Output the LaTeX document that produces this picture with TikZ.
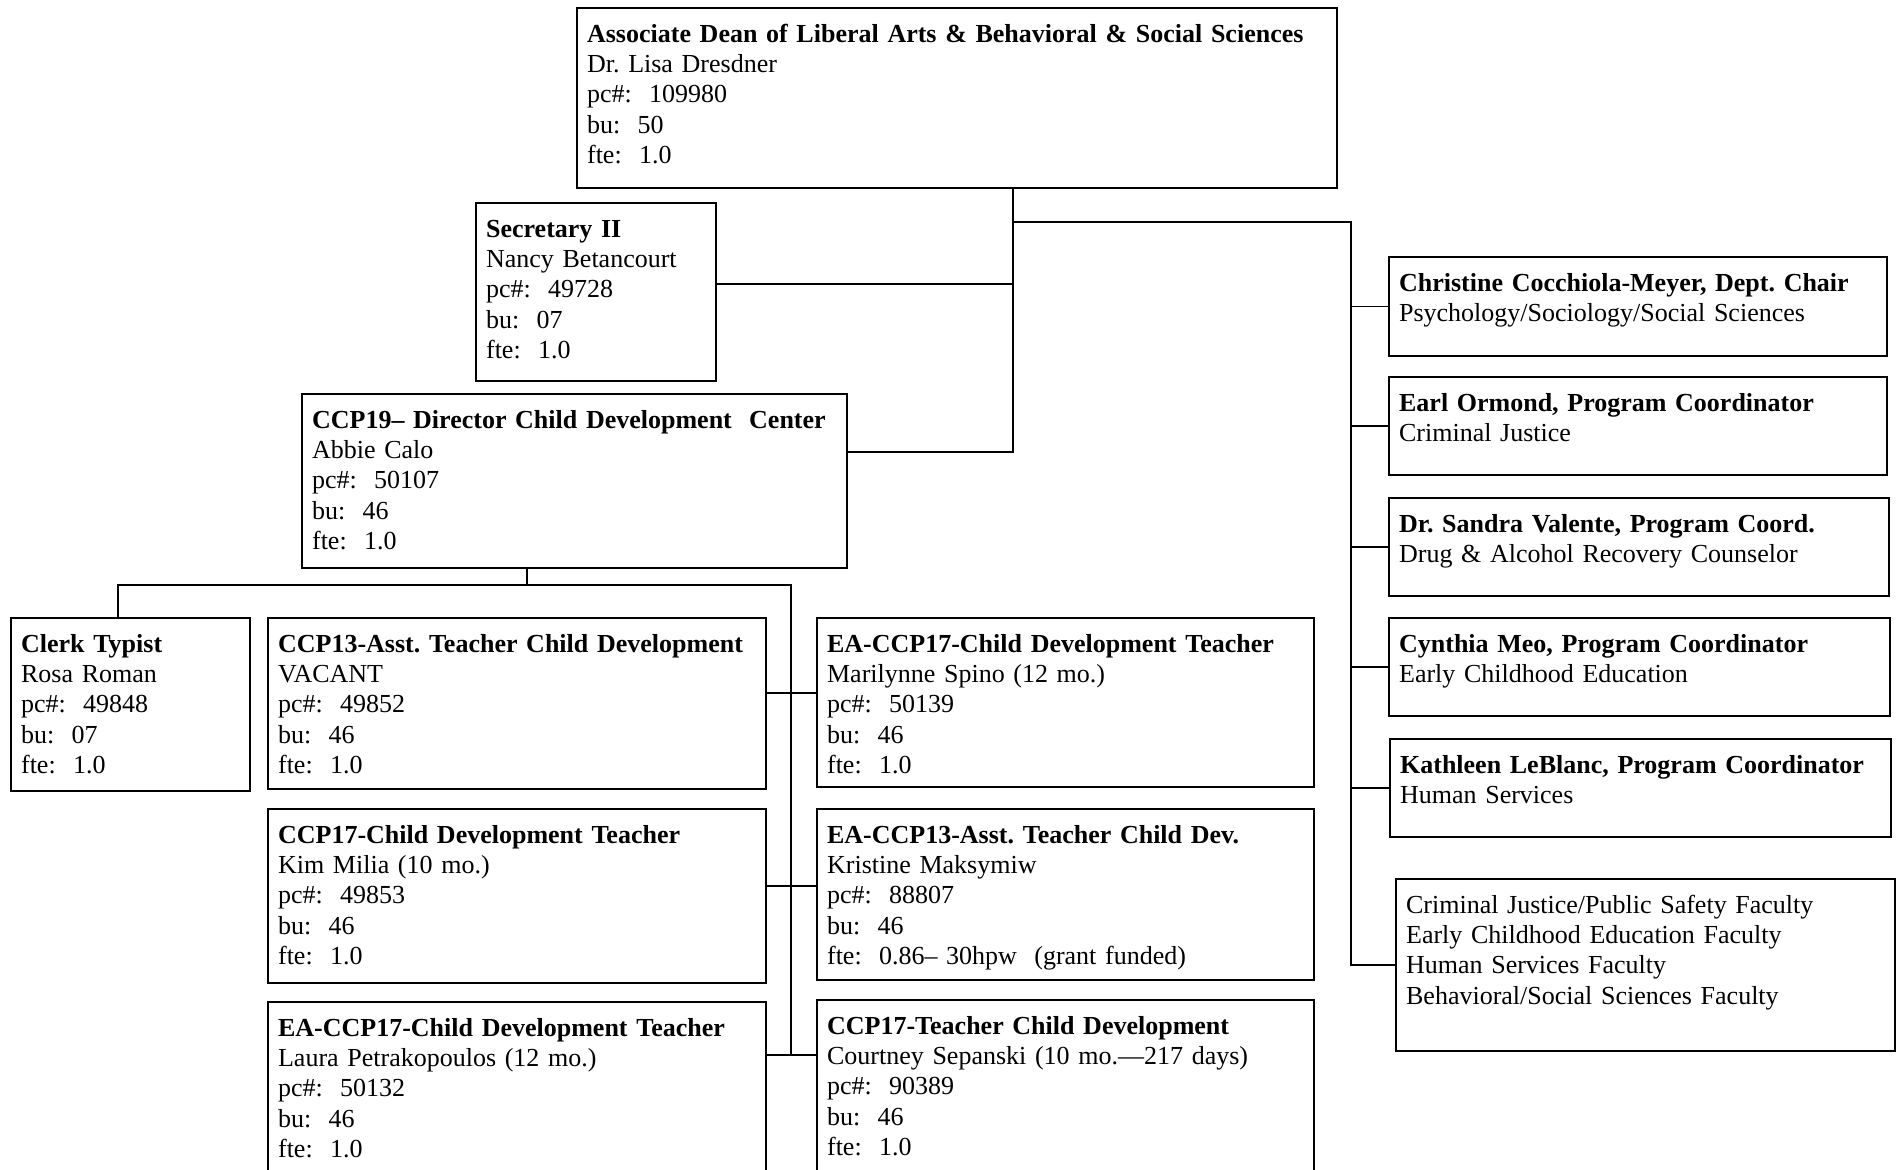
\documentclass[tikz,border=0pt]{standalone}
\usepackage{fontspec}
\setmainfont{Liberation Serif}
\frenchspacing

\begin{document}
\begin{tikzpicture}[x=0.5pt, y=-0.5pt,
  jobbox/.style={draw, line width=1.1pt, anchor=north west, align=left,
    inner xsep=5pt, inner ysep=7pt, text height=10pt,
    font=\fontsize{13}{15.2}\selectfont},
  link/.style={line width=0.8pt}]
\useasboundingbox (0,0) rectangle (1896,1170);

\node[jobbox, text width=370pt, text depth=66pt] (dean) at (576,7)
  {\textbf{Associate Dean of Liberal Arts \& Behavioral \& Social Sciences}\\
   Dr. Lisa Dresdner\\ pc\#:\ \ 109980\\ bu:\ \ 50\\ fte:\ \ 1.0};
\node[jobbox, text width=110pt, text depth=65pt] (sec) at (475,202)
  {\textbf{Secretary II}\\ Nancy Betancourt\\ pc\#:\ \ 49728\\ bu:\ \ 07\\ fte:\ \ 1.0};
\node[jobbox, text width=262.5pt, text depth=63pt] (dir) at (301,393)
  {\textbf{CCP19– Director Child Development\ \ Center}\\ Abbie Calo\\
   pc\#:\ \ 50107\\ bu:\ \ 46\\ fte:\ \ 1.0};

\node[jobbox, text width=109.5pt, text depth=62.5pt] (clerk) at (10,617)
  {\textbf{Clerk Typist}\\ Rosa Roman\\ pc\#:\ \ 49848\\ bu:\ \ 07\\ fte:\ \ 1.0};
\node[jobbox, text width=239pt, text depth=61.5pt] (ccp13) at (267,617)
  {\textbf{CCP13-Asst. Teacher Child Development}\\ VACANT\\
   pc\#:\ \ 49852\\ bu:\ \ 46\\ fte:\ \ 1.0};
\node[jobbox, text width=239pt, text depth=63pt] (ccp17) at (267,808)
  {\textbf{CCP17-Child Development Teacher}\\ Kim Milia (10 mo.)\\
   pc\#:\ \ 49853\\ bu:\ \ 46\\ fte:\ \ 1.0};
\node[jobbox, text width=239pt, text depth=71pt] (eaccp17) at (267,1001)
  {\textbf{EA-CCP17-Child Development Teacher}\\ Laura Petrakopoulos (12 mo.)\\
   pc\#:\ \ 50132\\ bu:\ \ 46\\ fte:\ \ 1.0};

\node[jobbox, text width=238.5pt, text depth=60.5pt] (spino) at (816,617)
  {\textbf{EA-CCP17-Child Development Teacher}\\ Marilynne Spino (12 mo.)\\
   pc\#:\ \ 50139\\ bu:\ \ 46\\ fte:\ \ 1.0};
\node[jobbox, text width=238.5pt, text depth=61.5pt] (eaccp13) at (816,808)
  {\textbf{EA-CCP13-Asst. Teacher Child Dev.}\\ Kristine Maksymiw\\
   pc\#:\ \ 88807\\ bu:\ \ 46\\ fte:\ \ 0.86– 30hpw\ \ (grant funded)};
\node[jobbox, text width=238.5pt, text depth=71pt] (sepanski) at (816,999)
  {\textbf{CCP17-Teacher Child Development}\\ Courtney Sepanski (10 mo.—217 days)\\
   pc\#:\ \ 90389\\ bu:\ \ 46\\ fte:\ \ 1.0};

\node[jobbox, text width=239pt, text depth=25.5pt] (chair) at (1388,256)
  {\textbf{Christine Cocchiola-Meyer, Dept. Chair}\\ Psychology/Sociology/Social Sciences};
\node[jobbox, text width=239pt, text depth=25pt] (cj) at (1388,376)
  {\textbf{Earl Ormond, Program Coordinator}\\ Criminal Justice};
\node[jobbox, text width=240pt, text depth=25pt] (drug) at (1388,497)
  {\textbf{Dr. Sandra Valente, Program Coord.}\\ Drug \& Alcohol Recovery Counselor};
\node[jobbox, text width=240.5pt, text depth=25pt] (ece) at (1388,617)
  {\textbf{Cynthia Meo, Program Coordinator}\\ Early Childhood Education};
\node[jobbox, text width=240.5pt, text depth=25pt] (hs) at (1389,738)
  {\textbf{Kathleen LeBlanc, Program Coordinator}\\ Human Services};
\node[jobbox, text width=239.5pt, text depth=62pt] (faculty) at (1395,878)
  {Criminal Justice/Public Safety Faculty\\ Early Childhood Education Faculty\\
   Human Services Faculty\\ Behavioral/Social Sciences Faculty};

\coordinate (top) at (1013,222);
\coordinate (secjoin) at (1013,284);
\coordinate (dirjoin) at (1013,452);
\coordinate (rtrunk) at (1351,222);
\coordinate (tick) at (527,585);
\coordinate (lcorner) at (118,585);
\coordinate (lspine) at (791,585);
\coordinate (s1) at (791,693);
\coordinate (s2) at (791,886);
\coordinate (s3) at (791,1055);

\draw[link] (dean.south -| top) -- (dirjoin) -- (dir.east |- dirjoin);
\draw[link] (sec.east |- secjoin) -- (secjoin);
\draw[link] (top) -- (rtrunk) -- (rtrunk |- faculty.west) -- (faculty.west);
\foreach \n in {chair, cj, drug, ece, hs}
  \draw[link] (rtrunk |- \n.west) -- (\n.west);

\draw[link] (dir.south -| tick) -- (tick);
\draw[link] (lcorner |- clerk.north) -- (lcorner) -- (lspine) -- (s3);
\draw[link] (ccp13.east |- s1) -- (spino.west |- s1);
\draw[link] (ccp17.east |- s2) -- (eaccp13.west |- s2);
\draw[link] (eaccp17.east |- s3) -- (sepanski.west |- s3);
\end{tikzpicture}
\end{document}
